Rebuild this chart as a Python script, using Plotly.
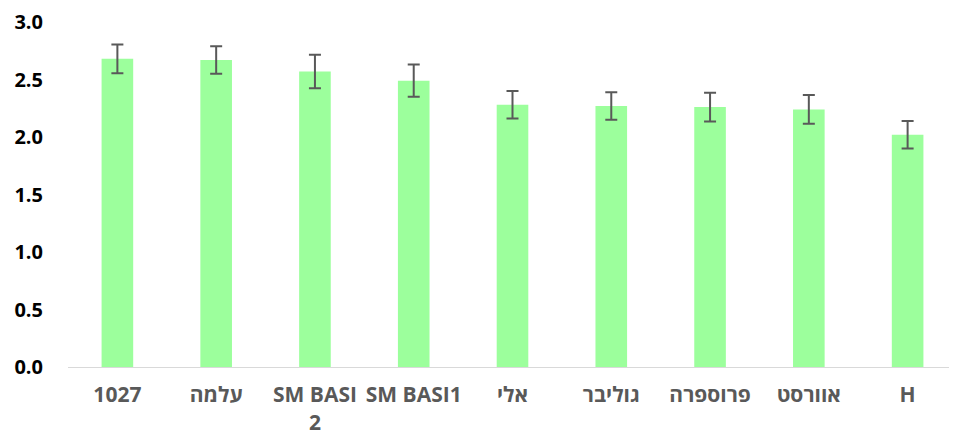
import plotly.graph_objects as go

categories = ["1027", "עלמה", "SM BASI<br>2", "SM BASI1", "אלי", "גוליבר", "פרוספרה", "אוורסט", "H"]
values = [2.68, 2.67, 2.57, 2.49, 2.28, 2.27, 2.26, 2.24, 2.02]
errors = [0.125, 0.12, 0.145, 0.14, 0.12, 0.12, 0.125, 0.125, 0.12]
y_ticks = [0.0, 0.5, 1.0, 1.5, 2.0, 2.5, 3.0]

fig = go.Figure(go.Bar(
    x=categories, y=values,
    marker=dict(color="#9cff9c", line=dict(width=0)),
    error_y=dict(type="data", array=errors, visible=True, color="#595959", thickness=2, width=6),
))

fig.update_layout(
    width=957, height=434,
    margin=dict(l=60, r=8, t=14, b=75, autoexpand=False),
    paper_bgcolor="white", plot_bgcolor="white",
    bargap=0.68,
    showlegend=False,
    font=dict(family="Open Sans, DejaVu Sans, sans-serif"),
    xaxis=dict(
        showline=True, linecolor="#d9d9d9", linewidth=1,
        showgrid=False, ticks="",
        tickfont=dict(size=21, color="#595959", weight="bold"),
        ticklabelstandoff=9,
    ),
    yaxis=dict(
        range=[0, 3], tickvals=y_ticks, tickformat=".1f",
        showgrid=False, zeroline=False, showline=False, ticks="",
        tickfont=dict(size=20, color="black", weight="bold"),
        ticklabelstandoff=24,
    ),
)

fig.write_html("out.html")
